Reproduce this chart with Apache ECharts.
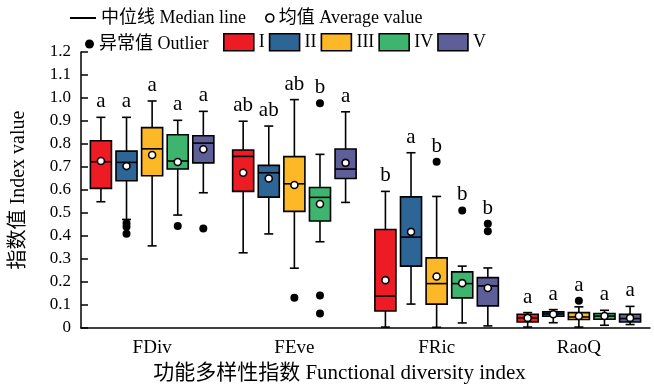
<!DOCTYPE html>
<html>
<head>
<meta charset="utf-8">
<script src="https://cdn.jsdelivr.net/npm/echarts@6/dist/echarts.min.js"></script>
<style>
  html, body { margin: 0; padding: 0; background: #fff; }
  #chart { width: 654px; height: 390px; }
</style>
</head>
<body>
<div id="chart"></div>
<script>
const categories = ['FDiv', 'FEve', 'FRic', 'RaoQ'];
const groups = ['I', 'II', 'III', 'IV', 'V'];
const colors = ['#ed1c24', '#2e6597', '#fcb827', '#3db56f', '#5e5f98'];

// [min, Q1, median, Q3, max] per category
const boxI = [[0.549, 0.607, 0.723, 0.814, 0.916], [0.327, 0.594, 0.746, 0.774, 0.899], [0.004, 0.074, 0.139, 0.428, 0.594], [0.004, 0.026, 0.044, 0.060, 0.067]];
const boxII = [[0.472, 0.640, 0.720, 0.769, 0.916], [0.409, 0.569, 0.675, 0.707, 0.878], [0.104, 0.269, 0.395, 0.570, 0.762], [0.023, 0.051, 0.061, 0.070, 0.080]];
const boxIII = [[0.357, 0.662, 0.779, 0.871, 0.987], [0.260, 0.507, 0.627, 0.745, 0.993], [0.003, 0.104, 0.193, 0.305, 0.572], [0.004, 0.037, 0.048, 0.067, 0.092]];
const boxIV = [[0.491, 0.691, 0.726, 0.840, 0.903], [0.375, 0.465, 0.568, 0.611, 0.755], [0.022, 0.131, 0.193, 0.244, 0.269], [0.012, 0.038, 0.052, 0.063, 0.077]];
const boxV = [[0.588, 0.718, 0.804, 0.836, 0.942], [0.546, 0.650, 0.691, 0.778, 0.940], [0.009, 0.096, 0.183, 0.219, 0.261], [0.015, 0.026, 0.041, 0.060, 0.094]];

const meanI = [0.726, 0.675, 0.208, 0.044];
const meanII = [0.704, 0.650, 0.418, 0.060];
const meanIII = [0.752, 0.622, 0.224, 0.052];
const meanIV = [0.722, 0.539, 0.195, 0.052];
const meanV = [0.777, 0.718, 0.174, 0.044];

// [category index, group index, value]
const outliers = [
  [0, 1, 0.455], [0, 1, 0.44], [0, 1, 0.41], [0, 3, 0.443], [0, 4, 0.433],
  [1, 2, 0.132], [1, 3, 0.977], [1, 3, 0.141], [1, 3, 0.063],
  [2, 2, 0.723], [2, 3, 0.511], [2, 4, 0.453], [2, 4, 0.421],
  [3, 2, 0.118]
];

const lettersI = ['a', 'ab', 'b', 'a'];
const lettersII = ['a', 'ab', 'a', 'a'];
const lettersIII = ['a', 'ab', 'b', 'a'];
const lettersIV = ['a', 'b', 'b', 'a'];
const lettersV = ['a', 'a', 'b', 'a'];

const yTicks = { min: 0, max: 1.2, interval: 0.1 };

const boxes = [boxI, boxII, boxIII, boxIV, boxV];
const means = [meanI, meanII, meanIII, meanIV, meanV];
const letters = [lettersI, lettersII, lettersIII, lettersIV, lettersV];

const font = '"Liberation Serif", "Noto Sans CJK SC", serif';
const stroke = { stroke: '#000', lineWidth: 1.6 };

// horizontal offset of group k inside a category band
const offset = (k, band) => (k - 2) * band * 0.18;

function boxRender(k) {
  return function (params, api) {
    const cat = api.value(0);
    const band = api.size([1, 0])[0];
    const cx = api.coord([cat, 0])[0] + offset(k, band);
    const half = band * 0.074;
    const cap = 4.5;
    const y = (i) => api.coord([cat, api.value(i)])[1];
    return {
      type: 'group',
      children: [
        { type: 'line', shape: { x1: cx, y1: y(1), x2: cx, y2: y(2) }, style: stroke },
        { type: 'line', shape: { x1: cx, y1: y(4), x2: cx, y2: y(5) }, style: stroke },
        { type: 'line', shape: { x1: cx - cap, y1: y(1), x2: cx + cap, y2: y(1) }, style: stroke },
        { type: 'line', shape: { x1: cx - cap, y1: y(5), x2: cx + cap, y2: y(5) }, style: stroke },
        { type: 'rect', shape: { x: cx - half, y: y(4), width: half * 2, height: y(2) - y(4) },
          style: { fill: colors[k], stroke: '#000', lineWidth: 1.6 } },
        { type: 'line', shape: { x1: cx - half, y1: y(3), x2: cx + half, y2: y(3) }, style: stroke },
        { type: 'circle', shape: { cx: cx, cy: y(6), r: 3.5 },
          style: { fill: '#fff', stroke: '#000', lineWidth: 1.6 } }
      ]
    };
  };
}

const boxSeries = groups.map((g, k) => ({
  name: g,
  type: 'custom',
  itemStyle: { color: colors[k] },
  renderItem: boxRender(k),
  encode: { x: 0, y: [1, 2, 3, 4, 5, 6] },
  data: categories.map((c, i) => [i].concat(boxes[k][i], [means[k][i]]))
}));

// letter anchors: highest of whisker top and outliers
const letterData = [];
groups.forEach((g, k) => {
  categories.forEach((c, i) => {
    let top = boxes[k][i][4];
    outliers.forEach((o) => { if (o[0] === i && o[1] === k) top = Math.max(top, o[2]); });
    letterData.push({ value: [i, k, top], text: letters[k][i] });
  });
});

const chart = echarts.init(document.getElementById('chart'));
chart.setOption({
  animation: false,
  textStyle: { fontFamily: font, color: '#000' },
  grid: { left: 81, right: 4, top: 52, bottom: 62 },
  legend: [
    { data: [{ name: '中位线 Median line', icon: 'rect' }], left: 70, top: 9, padding: 0,
      itemWidth: 26, itemHeight: 2, selectedMode: false,
      textStyle: { fontFamily: font, fontSize: 18, color: '#000' } },
    { data: [{ name: '均值 Average value', icon: 'circle' }], left: 265, top: 9, padding: 0,
      itemWidth: 8, itemHeight: 8, selectedMode: false,
      itemStyle: { borderColor: '#000', borderWidth: 1.6 },
      textStyle: { fontFamily: font, fontSize: 18, color: '#000' } },
    { data: [{ name: '异常值 Outlier', icon: 'circle' }], left: 85, top: 35, padding: 0,
      itemWidth: 9, itemHeight: 9, selectedMode: false,
      textStyle: { fontFamily: font, fontSize: 18, color: '#000' } },
    { data: groups, icon: 'rect', left: 223, top: 33, padding: 0,
      itemWidth: 30, itemHeight: 17, itemGap: 4, selectedMode: false,
      itemStyle: { borderColor: '#000', borderWidth: 1.6 },
      textStyle: { fontFamily: font, fontSize: 18, color: '#000' } }
  ],
  xAxis: {
    type: 'category',
    data: categories,
    name: '功能多样性指数 Functional diversity index',
    nameLocation: 'middle',
    nameGap: 35,
    nameTextStyle: { fontFamily: font, fontSize: 21, color: '#000', padding: [0, 52, 0, 0] },
    axisLine: { lineStyle: { color: '#000', width: 1.5 } },
    axisTick: { inside: true, alignWithLabel: true, length: 6, lineStyle: { color: '#000', width: 1.5 } },
    axisLabel: { fontFamily: font, fontSize: 19, color: '#000', margin: 11 },
    splitLine: { show: false }
  },
  yAxis: {
    type: 'value',
    min: yTicks.min,
    max: yTicks.max,
    interval: yTicks.interval,
    name: '指数值 Index value',
    nameLocation: 'middle',
    nameGap: 52,
    nameTextStyle: { fontFamily: font, fontSize: 20, color: '#000' },
    axisLine: { show: true, lineStyle: { color: '#000', width: 1.5 } },
    axisTick: { show: true, inside: true, length: 7, lineStyle: { color: '#000', width: 1.5 } },
    axisLabel: {
      fontFamily: font, fontSize: 17, color: '#000', margin: 10,
      formatter: (v) => (v === 0 ? '0' : v.toFixed(1))
    },
    splitLine: { show: false }
  },
  series: [
    { name: '中位线 Median line', type: 'custom', itemStyle: { color: '#000' },
      renderItem: () => null, data: [] },
    { name: '均值 Average value', type: 'custom', itemStyle: { color: '#fff' },
      renderItem: () => null, data: [] }
  ].concat(boxSeries, [
    {
      name: '异常值 Outlier',
      type: 'custom',
      itemStyle: { color: '#000' },
      encode: { x: 0, y: 2 },
      data: outliers,
      renderItem: function (params, api) {
        const cat = api.value(0);
        const band = api.size([1, 0])[0];
        const p = api.coord([cat, api.value(2)]);
        return { type: 'circle', shape: { cx: p[0] + offset(api.value(1), band), cy: p[1], r: 4 },
          style: { fill: '#000' } };
      }
    },
    {
      name: 'letters',
      type: 'custom',
      encode: { x: 0, y: 2 },
      data: letterData,
      renderItem: function (params, api) {
        const cat = api.value(0);
        const band = api.size([1, 0])[0];
        const p = api.coord([cat, api.value(2)]);
        return {
          type: 'text',
          style: {
            text: letterData[params.dataIndex].text,
            x: p[0] + offset(api.value(1), band), y: p[1] - 5,
            textAlign: 'center', textVerticalAlign: 'bottom',
            align: 'center', verticalAlign: 'bottom',
            font: '21px ' + font, fill: '#000'
          }
        };
      }
    }
  ])
});
</script>
</body>
</html>
